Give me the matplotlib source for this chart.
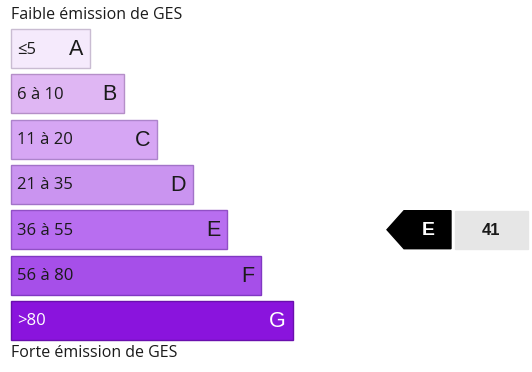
import matplotlib.pyplot as plt
from matplotlib.patches import Polygon, Rectangle

ranges = ['≤5', '6 à 10', '11 à 20', '21 à 35', '36 à 55', '56 à 80', '>80']
letters = ['A', 'B', 'C', 'D', 'E', 'F', 'G']
widths = [79, 113, 146, 182, 216, 250, 282]
colors = ['#f5eafc', '#dfb6f3', '#d6a6f4', '#ca94f0', '#b86ef0', '#a64fe9', '#8a14dd']
edges = ['#c9bcd2', '#b58fc8', '#ad84cc', '#a273c8', '#9150c6', '#8038c2', '#6a0fae']
current = 'E'
value = 41

fig = plt.figure(figsize=(5.32, 3.72), dpi=100)
ax = fig.add_axes([0, 0, 1, 1])
ax.set_xlim(0, 532)
ax.set_ylim(372, 0)
ax.axis('off')

x0 = 11
top = 29
pitch = 45.3
h = 39
ys = [top + i * pitch + h / 2 for i in range(len(letters))]

ax.barh(ys, widths, left=x0, height=h, color=colors, edgecolor=edges, linewidth=1)

for i, (r, l, w) in enumerate(zip(ranges, letters, widths)):
    tc = 'white' if l == 'G' else '#1a1a1a'
    ax.text(x0 + 6, ys[i] + 1, r, fontsize=12, family='Open Sans', color=tc,
            ha='left', va='center')
    ax.text(x0 + w - 7, ys[i] + 1, l, fontsize=15.5, family='Liberation Sans', color=tc,
            ha='right', va='center')

ax.text(x0, 15, 'Faible émission de GES', fontsize=11.5, family='Open Sans',
        color='#1a1a1a', ha='left', va='center')
ax.text(x0, 353, 'Forte émission de GES', fontsize=11.5, family='Open Sans',
        color='#1a1a1a', ha='left', va='center')

# indicator
iy = ys[letters.index(current)]
ax.add_patch(Polygon([[387, iy], [404, iy - 19], [451, iy - 19], [451, iy + 19], [404, iy + 19]],
                     closed=True, color='black'))
ax.text(428, iy + 1, current, fontsize=14, family='Liberation Sans', weight='bold',
        color='white', ha='center', va='center')
ax.add_patch(Rectangle((455, iy - 19), 73, 38, color='#e6e6e6'))
ax.text(491, iy + 1, str(value), fontsize=12, family='Liberation Sans', weight='bold',
        color='#1a1a1a', ha='center', va='center')

fig.savefig('out.png', dpi=100)
